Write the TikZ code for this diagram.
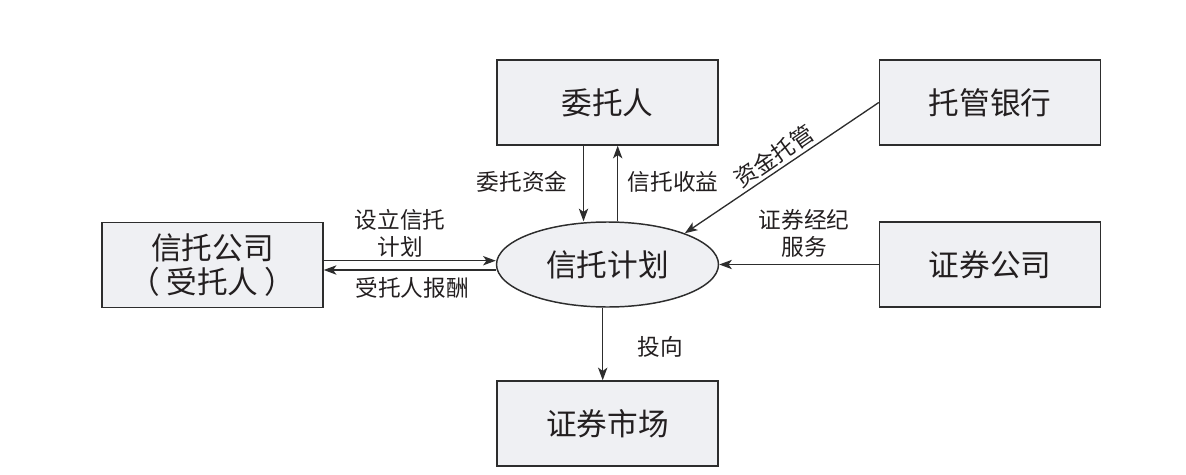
\documentclass[tikz,border=0pt]{standalone}
\usepackage{fontspec}
\newfontfamily\cjkfont{Noto Sans CJK SC}
\usetikzlibrary{shapes.geometric,arrows.meta,calc}
\definecolor{boxfill}{RGB}{239,240,243}
\definecolor{linegray}{RGB}{45,45,45}
\definecolor{textgray}{RGB}{35,31,32}
\tikzset{
  entity/.style={draw=linegray,line width=1.1pt,fill=boxfill,minimum width=165.75pt,minimum height=63.75pt,inner sep=0pt,align=center,text=textgray,font=\cjkfont\fontsize{23}{26}\selectfont},
  plan/.style={ellipse,draw=linegray,line width=1.1pt,fill=boxfill,minimum width=166.5pt,minimum height=63.75pt,inner sep=0pt,text=textgray,font=\cjkfont\fontsize{23}{26}\selectfont},
  flow/.style={draw=linegray,line width=1pt,-{Stealth[length=9.5pt,width=7pt,inset=2.5pt]}},
  flowlabel/.style={inner sep=0pt,align=center,text=textgray,font=\cjkfont\fontsize{17}{20}\selectfont}
}

\begin{document}
\begin{tikzpicture}[x=0.75pt,y=0.75pt,yscale=-1,xscale=1]
\useasboundingbox (0,0) rectangle (1186,475);

%Shape: Rectangle [wtr]
\node[entity] (wtr) at (607.5,102.5) {委托人};
%Shape: Rectangle [tgyh]
\node[entity] (tgyh) at (990,102.5) {托管银行};
%Shape: Rectangle [xtgs]
\node[entity] (xtgs) at (212.5,265) {信托公司\\（\hspace{0.2em}受托人\hspace{0.2em}）};
%Shape: Rectangle [zqgs]
\node[entity] (zqgs) at (990,264.5) {证券公司};
%Shape: Rectangle [zqsc]
\node[entity] (zqsc) at (607.5,423.5) {证券市场};
%Shape: Ellipse [xtjh]
\node[plan] (xtjh) at (607.5,264.5) {信托计划};

% arrow ends
\coordinate (wtrl) at ($(wtr.south)+(-24,0)$);
\coordinate (wtrr) at ($(wtr.south)+(10.2,0)$);
\coordinate (gsup) at ($(xtgs.east)+(0,-4.3)$);
\coordinate (gsdn) at ($(xtgs.east)+(0,5)$);
\coordinate (scin) at ($(zqsc.north)+(-4.8,0)$);

%Straight Lines
\draw[flow] (wtrl) -- (wtrl |- xtjh.north);
\draw[flow] (wtrr |- xtjh.north) -- (wtrr);
\draw[flow] (gsup) -- (gsup -| xtjh.west);
\draw[flow] (gsdn -| xtjh.west) -- (gsdn);
\draw[flow] (zqgs.west) -- (zqgs.west -| xtjh.east);
\draw[flow] (tgyh.west) -- (xtjh.22);
\draw[flow] (scin |- xtjh.south) -- (scin);

% Text Node
\node[flowlabel] (lwtzj) at (522,182) {委托资金};
% Text Node
\node[flowlabel] (lxtsy) at (673,182) {信托收益};
% Text Node
\node[flowlabel,rotate=34.5] (ljgtg) at (774,156) {资金托管};
% Text Node
\node[flowlabel] (lslxt) at (400,233.5) {设立信托\\计划};
% Text Node
\node[flowlabel] (lstrbc) at (412,288) {受托人报酬};
% Text Node
\node[flowlabel] (lzqjj) at (804,233.5) {证券经纪\\服务};
% Text Node
\node[flowlabel] (ltx) at (660.5,347) {投向};

\end{tikzpicture}
\end{document}
